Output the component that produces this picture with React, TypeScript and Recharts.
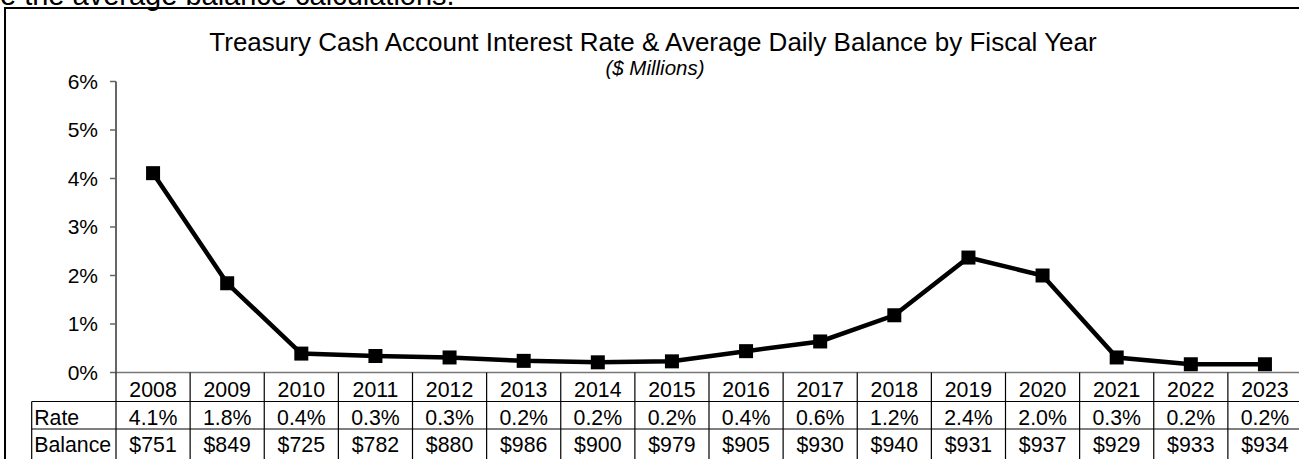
import React from 'react';
import { LineChart, Line, XAxis, YAxis } from 'recharts';

const years = ['2008', '2009', '2010', '2011', '2012', '2013', '2014', '2015', '2016', '2017', '2018', '2019', '2020', '2021', '2022', '2023'];
const rates = [4.11, 1.84, 0.39, 0.34, 0.31, 0.24, 0.21, 0.23, 0.44, 0.64, 1.18, 2.37, 2.0, 0.31, 0.17, 0.17];
const rateLabels = ['4.1%', '1.8%', '0.4%', '0.3%', '0.3%', '0.2%', '0.2%', '0.2%', '0.4%', '0.6%', '1.2%', '2.4%', '2.0%', '0.3%', '0.2%', '0.2%'];
const balances = [751, 849, 725, 782, 880, 986, 900, 979, 905, 930, 940, 931, 937, 929, 933, 934];
const yTicks = [0, 1, 2, 3, 4, 5, 6];
const rowLabels = ['Rate', 'Balance'];

const data = years.map((y, i) => ({ year: y, rate: rates[i] }));

const FONT = '"Liberation Sans", Arial, sans-serif';
const CHART_W = 1302;
const CHART_H = 470;
const PLOT_LEFT = 116;
const PLOT_TOP = 81.5;
const PLOT_BOTTOM = 372.5;
const COL_W = (CHART_W - PLOT_LEFT) / years.length;
const ROW1 = 401.5;
const ROW2 = 429;
const TABLE_END = 480;
const LABEL_LEFT = 31.7;
const TFS = 21.3;

const TableTick = (props: any) => {
  const { x, payload } = props;
  const idx = years.indexOf(String(payload.value));
  const l = x - COL_W / 2;
  const r = x + COL_W / 2;
  return (
    <g>
      {idx === 0 && (
        <g>
          <line x1={PLOT_LEFT} x2={PLOT_LEFT} y1={PLOT_BOTTOM} y2={TABLE_END} stroke="#000" strokeWidth={1.2} />
          <line x1={LABEL_LEFT} x2={PLOT_LEFT} y1={ROW1} y2={ROW1} stroke="#000" strokeWidth={1.2} />
          <line x1={LABEL_LEFT} x2={PLOT_LEFT} y1={ROW2} y2={ROW2} stroke="#000" strokeWidth={1.2} />
          <line x1={LABEL_LEFT} x2={LABEL_LEFT} y1={ROW1} y2={TABLE_END} stroke="#000" strokeWidth={1.2} />
          <text x={LABEL_LEFT + 2.5} y={424.5} fontSize={TFS} fontFamily={FONT} fill="#000">{rowLabels[0]}</text>
          <text x={LABEL_LEFT + 2.5} y={452} fontSize={TFS} fontFamily={FONT} fill="#000">{rowLabels[1]}</text>
        </g>
      )}
      <line x1={r} x2={r} y1={PLOT_BOTTOM} y2={TABLE_END} stroke="#000" strokeWidth={1.2} />
      <line x1={l} x2={r} y1={ROW1} y2={ROW1} stroke="#000" strokeWidth={1.2} />
      <line x1={l} x2={r} y1={ROW2} y2={ROW2} stroke="#000" strokeWidth={1.2} />
      <text x={x} y={397} textAnchor="middle" fontSize={TFS} fontFamily={FONT} fill="#000">{years[idx]}</text>
      <text x={x} y={424.5} textAnchor="middle" fontSize={TFS} fontFamily={FONT} fill="#000">{rateLabels[idx]}</text>
      <text x={x} y={452} textAnchor="middle" fontSize={TFS} fontFamily={FONT} fill="#000">{'$' + balances[idx]}</text>
    </g>
  );
};

const SquareDot = (props: any) => {
  const { cx, cy, index } = props;
  if (cx == null || cy == null) return <g key={`d${index}`} />;
  return <rect key={`d${index}`} x={cx - 7} y={cy - 7} width={14} height={14} fill="#000" />;
};

export default function App() {
  return (
    <div style={{ position: 'absolute', left: 0, top: 0, width: 1299, height: 459, overflow: 'hidden', background: '#fff' }}>
      <svg width={1299} height={459} style={{ position: 'absolute', left: 0, top: 0 }}>
        <text x={0} y={5} fontSize={29} fontFamily={FONT} fill="#000">e the average balance calculations.</text>
        <rect x={5} y={8} width={1400} height={600} fill="none" stroke="#000" strokeWidth={2} />
        <text x={653} y={51} textAnchor="middle" fontSize={26} fontFamily={FONT} fill="#000">
          Treasury Cash Account Interest Rate &amp; Average Daily Balance by Fiscal Year
        </text>
        <text x={655} y={75} textAnchor="middle" fontSize={20.5} fontStyle="italic" fontFamily={FONT} fill="#000">
          ($ Millions)
        </text>
      </svg>
      <div style={{ position: 'absolute', left: 0, top: 0 }}>
        <LineChart width={CHART_W} height={CHART_H} data={data} margin={{ top: PLOT_TOP, right: 0, bottom: 0, left: 0 }}>
          <XAxis
            dataKey="year"
            scale="point"
            padding={{ left: COL_W / 2, right: COL_W / 2 }}
            interval={0}
            tickLine={false}
            axisLine={{ stroke: '#777', strokeWidth: 1.5 }}
            height={CHART_H - PLOT_BOTTOM}
            tick={TableTick}
          />
          <YAxis
            domain={[0, 6]}
            ticks={yTicks}
            width={PLOT_LEFT}
            tickSize={6}
            tickMargin={12}
            tickFormatter={(v: number) => `${v}%`}
            tick={{ fontSize: 21, fontFamily: FONT, fill: '#000' }}
            tickLine={{ stroke: '#666', strokeWidth: 1.5 }}
            axisLine={{ stroke: '#666', strokeWidth: 2 }}
          />
          <Line
            type="linear"
            dataKey="rate"
            stroke="#000"
            strokeWidth={4.5}
            dot={SquareDot}
            activeDot={false}
            isAnimationActive={false}
          />
        </LineChart>
      </div>
    </div>
  );
}
